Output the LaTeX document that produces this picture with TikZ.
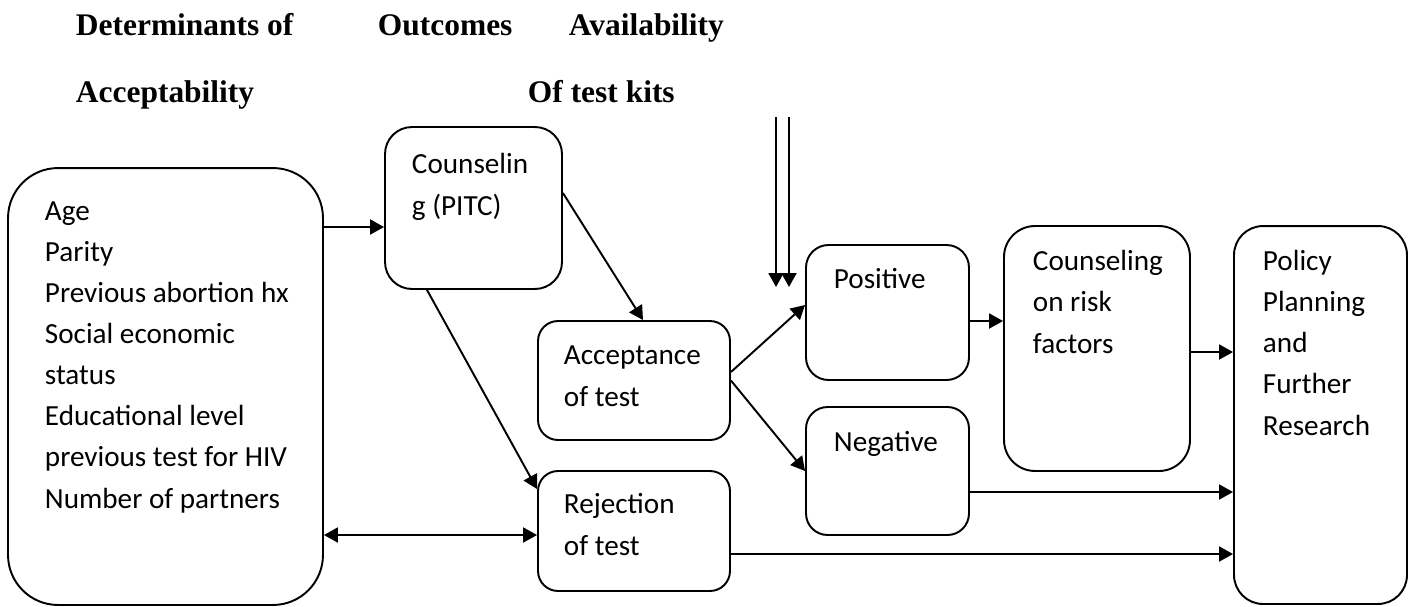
\documentclass[tikz,border=0pt]{standalone}
\usepackage{fontspec}
\setmainfont{Carlito}
\newfontfamily\headfont{Liberation Serif}
\usetikzlibrary{arrows.meta}

\begin{document}
\begin{tikzpicture}[x=0.02cm,y=-0.02cm,>={Triangle[length=0.28cm,width=0.3cm]},
  line width=1.1pt,
  box/.style={draw,rectangle,inner sep=0pt,rounded corners=#1},
  box/.default=0.4cm,
  txt/.style={anchor=base west,align=left,inner sep=0pt,
    font=\fontsize{16.6}{23.4}\selectfont},
  head/.style={anchor=base west,inner sep=0pt,
    font=\headfont\bfseries\fontsize{17.9}{20}\selectfont}]

  \useasboundingbox (0,0) rectangle (1414,606);

  % column headings
  \node[head] (hdDet) at (75,35) {Determinants of};
  \node[head] (hdAcc) at (75,102) {Acceptability};
  \node[head] (hdOut) at (377,35) {Outcomes};
  \node[head] (hdAva) at (568,35) {Availability};
  \node[head] (hdKit) at (527,102) {Of test kits};

  % boxes
  \node[box=1cm, minimum width=6.3cm, minimum height=8.74cm] (det) at (165.5,386.5) {};
  \node[box=0.54cm, minimum width=3.54cm, minimum height=3.24cm] (pitc) at (473.5,208) {};
  \node[box, minimum width=3.84cm, minimum height=2.38cm] (acc) at (634,380.5) {};
  \node[box, minimum width=3.84cm, minimum height=2.4cm] (rej) at (634,531) {};
  \node[box=0.45cm, minimum width=3.26cm, minimum height=2.7cm] (pos) at (887.5,312.5) {};
  \node[box=0.43cm, minimum width=3.26cm, minimum height=2.56cm] (neg) at (887.5,471) {};
  \node[box=0.62cm, minimum width=3.72cm, minimum height=4.9cm] (risk) at (1097,348.5) {};
  \node[box=0.58cm, minimum width=3.46cm, minimum height=7.56cm] (pol) at (1320.5,415) {};

  % box texts (placed by the baseline of their last line)
  \node[txt] (detTxt) at (44,508) {Age\\Parity\\Previous abortion hx\\Social economic\\status\\Educational level\\previous test for HIV\\Number of partners};
  \node[txt] (pitcTxt) at (411,215) {Counselin\\g (PITC)};
  \node[txt] (accTxt) at (563,406) {Acceptance\\of test};
  \node[txt] (rejTxt) at (563,555) {Rejection\\of test};
  \node[txt] (posTxt) at (833,288) {Positive};
  \node[txt] (negTxt) at (833,451) {Negative};
  \node[txt] (riskTxt) at (1032,353) {Counseling\\on risk\\factors};
  \node[txt] (polTxt) at (1262,435) {Policy\\Planning\\and\\Further\\Research};

  % rows and free ends
  \coordinate (rowA) at (0,227);
  \coordinate (rowB) at (0,193);
  \coordinate (rowC) at (0,321);
  \coordinate (rowD) at (0,352);
  \coordinate (rowE) at (0,492);
  \coordinate (rowF) at (0,535);
  \coordinate (rowG) at (0,554);
  \coordinate (kitLtop) at (776,117);
  \coordinate (kitLend) at (776,287);
  \coordinate (kitRtop) at (789,117);
  \coordinate (kitRend) at (789,287);

  % connectors
  \draw[->] (det.east |- rowA) -- (pitc.west |- rowA);
  \draw[<->] (det.east |- rowF) -- (rej.west |- rowF);
  \draw[->] (pitc.east |- rowB) -- ([xshift=0.18cm]acc.north);
  \draw[->] ([xshift=-0.93cm]pitc.south) -- ([yshift=-0.38cm]rej.north west);
  \draw[->] ([yshift=0.17cm]acc.east) -- ([yshift=0.15cm]pos.west);
  \draw[->] (acc.east) -- (neg.west);
  \draw[->] (pos.east |- rowC) -- (risk.west |- rowC);
  \draw[->] (risk.east |- rowD) -- (pol.west |- rowD);
  \draw[->] (neg.east |- rowE) -- (pol.west |- rowE);
  \draw[->] (rej.east |- rowG) -- (pol.west |- rowG);
  \draw[->] (kitLtop) -- (kitLend);
  \draw[->] (kitRtop) -- (kitRend);
\end{tikzpicture}
\end{document}
